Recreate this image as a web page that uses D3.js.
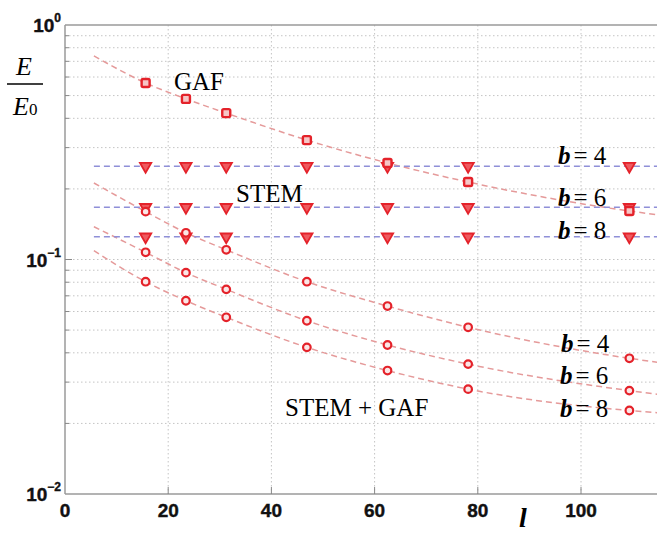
<!DOCTYPE html>
<html>
<head>
<meta charset="utf-8">
<script src="https://cdn.jsdelivr.net/npm/d3@7"></script>
<style>
  html, body { margin: 0; padding: 0; background: #fff; }
  svg { display: block; }
</style>
</head>
<body>
<svg id="chart" width="657" height="533"></svg>
<script>
// ---- data ----
const lValues = [15.625, 23.4375, 31.25, 46.875, 62.5, 78.125, 109.375];
const fitL = [5.6, 15.625, 23.4375, 31.25, 46.875, 62.5, 78.125, 109.375, 115];

const gafValues = [0.566, 0.484, 0.421, 0.323, 0.258, 0.214, 0.161];
const gafFit = [0.738, 0.566, 0.484, 0.421, 0.323, 0.258, 0.214, 0.161, 0.155];

const stemB4 = [0.25, 0.25, 0.25, 0.25, 0.25, 0.25, 0.25];
const stemB6 = [0.167, 0.167, 0.167, 0.167, 0.167, 0.167, 0.167];
const stemB8 = [0.125, 0.125, 0.125, 0.125, 0.125, 0.125, 0.125];
const stemLineL = [5.6, 115];

const stemGafB4 = [0.160, 0.130, 0.110, 0.0804, 0.0633, 0.0514, 0.0379];
const stemGafB6 = [0.1073, 0.0879, 0.0746, 0.0548, 0.0432, 0.0358, 0.0276];
const stemGafB8 = [0.0804, 0.0667, 0.0567, 0.0422, 0.0336, 0.0280, 0.0227];
const stemGafFitB4 = [0.212, 0.160, 0.130, 0.110, 0.0804, 0.0633, 0.0514, 0.0379, 0.0364];
const stemGafFitB6 = [0.138, 0.1073, 0.0879, 0.0746, 0.0548, 0.0432, 0.0358, 0.0276, 0.0266];
const stemGafFitB8 = [0.109, 0.0804, 0.0667, 0.0567, 0.0422, 0.0336, 0.0280, 0.0227, 0.0222];

const xTicks = [0, 20, 40, 60, 80, 100];
const yTicks = [1, 0.1, 0.01];
const yTickExp = ["0", "\u22121", "\u22122"];
const yMinor = [0.02,0.03,0.04,0.05,0.06,0.07,0.08,0.09,0.2,0.3,0.4,0.5,0.6,0.7,0.8,0.9];

// ---- scales ----
const svg = d3.select("#chart");
const x = d3.scaleLinear().domain([0, 115]).range([65, 658.4]);
const y = d3.scaleLog().domain([0.01, 1]).range([494, 25]);

const red = "#e4222a";
const gridColor = "#c4c4c4";

// ---- grid ----
const grid = svg.append("g");
grid.selectAll("line.v").data(xTicks.filter(d => d > 0)).join("line")
  .attr("x1", d => x(d)).attr("x2", d => x(d))
  .attr("y1", y(1)).attr("y2", y(0.01))
  .attr("stroke", gridColor).attr("stroke-width", 1).attr("stroke-dasharray", "1.5,2.5");
grid.selectAll("line.h").data(yMinor.concat([0.1])).join("line")
  .attr("x1", x(0)).attr("x2", 657)
  .attr("y1", d => y(d)).attr("y2", d => y(d))
  .attr("stroke", gridColor).attr("stroke-width", 1).attr("stroke-dasharray", "1.5,2.5");

// ---- axes frame ----
const axisColor = "#9a9a9a";
svg.append("line").attr("x1", x(0)).attr("x2", x(0)).attr("y1", y(1)).attr("y2", y(0.01))
  .attr("stroke", axisColor).attr("stroke-width", 1.5);
svg.append("line").attr("x1", x(0)).attr("x2", 657).attr("y1", y(0.01)).attr("y2", y(0.01))
  .attr("stroke", axisColor).attr("stroke-width", 1.5);
svg.append("line").attr("x1", x(0)).attr("x2", 657).attr("y1", y(1)).attr("y2", y(1))
  .attr("stroke", axisColor).attr("stroke-width", 1.5);

// inner ticks
svg.append("g").selectAll("line").data(yMinor.concat([0.1])).join("line")
  .attr("x1", x(0)).attr("x2", d => x(0) + (d === 0.1 ? 7 : 4))
  .attr("y1", d => y(d)).attr("y2", d => y(d))
  .attr("stroke", "#888").attr("stroke-width", 1);
svg.append("g").selectAll("line").data(xTicks.filter(d => d > 0)).join("line")
  .attr("x1", d => x(d)).attr("x2", d => x(d))
  .attr("y1", y(0.01)).attr("y2", y(0.01) - 7)
  .attr("stroke", "#888").attr("stroke-width", 1);

// ---- tick labels ----
svg.append("g").selectAll("text").data(xTicks).join("text")
  .attr("x", d => x(d)).attr("y", 517)
  .attr("text-anchor", "middle")
  .attr("font-family", "Liberation Sans, Arial, sans-serif")
  .attr("font-weight", "bold").attr("font-size", 19)
  .attr("fill", "#111").attr("stroke", "#111").attr("stroke-width", 0.4)
  .text(d => d);

const yl = svg.append("g").selectAll("text").data(yTicks).join("text")
  .attr("x", 61).attr("y", d => y(d) + 7)
  .attr("text-anchor", "end")
  .attr("font-family", "Liberation Sans, Arial, sans-serif")
  .attr("font-weight", "bold").attr("font-size", 19)
  .attr("fill", "#111").attr("stroke", "#111").attr("stroke-width", 0.4);
yl.append("tspan").text("10");
yl.append("tspan").attr("dy", -10).attr("font-size", 12).text((d, i) => yTickExp[i]);

// ---- line generators ----
const line = d3.line().x(d => x(d[0])).y(d => y(d[1])).curve(d3.curveMonotoneX);
const zip = (a, b) => a.map((v, i) => [v, b[i]]);

const pinkDash = "#e59a9a";
const blueDash = "#8f8fd8";

const lines = svg.append("g");
[gafFit, stemGafFitB4, stemGafFitB6, stemGafFitB8].forEach(vals => {
  lines.append("path").attr("d", line(zip(fitL, vals)))
    .attr("fill", "none").attr("stroke", pinkDash).attr("stroke-width", 1.5)
    .attr("stroke-dasharray", "6,4");
});
[stemB4, stemB6, stemB8].forEach(vals => {
  lines.append("path").attr("d", line(zip(stemLineL, [vals[0], vals[vals.length - 1]])))
    .attr("fill", "none").attr("stroke", blueDash).attr("stroke-width", 1.5)
    .attr("stroke-dasharray", "6,4");
});

// ---- markers ----
const marks = svg.append("g");
[stemB4, stemB6, stemB8].forEach(vals => {
  marks.append("g").selectAll("path").data(zip(lValues, vals)).join("path")
    .attr("transform", d => `translate(${x(d[0])},${y(d[1])}) rotate(180)`)
    .attr("d", d3.symbol(d3.symbolTriangle, 55)())
    .attr("fill", "#ee5a5f").attr("stroke", red).attr("stroke-width", 1.8);
});
marks.append("g").selectAll("rect").data(zip(lValues, gafValues)).join("rect")
  .attr("x", d => x(d[0]) - 4).attr("y", d => y(d[1]) - 4)
  .attr("width", 8).attr("height", 8).attr("rx", 1.5)
  .attr("fill", "#f6c6c6").attr("stroke", red).attr("stroke-width", 2.4);
[stemGafB4, stemGafB6, stemGafB8].forEach(vals => {
  marks.append("g").selectAll("circle").data(zip(lValues, vals)).join("circle")
    .attr("cx", d => x(d[0])).attr("cy", d => y(d[1])).attr("r", 3.8)
    .attr("fill", "#fbe6e6").attr("stroke", red).attr("stroke-width", 2.2);
});

// ---- annotations ----
const serif = "Liberation Serif, Times New Roman, serif";
function ann(tx, ty, str, size) {
  svg.append("text").attr("x", tx).attr("y", ty)
    .attr("font-family", serif).attr("font-size", size || 25).attr("fill", "#000").text(str);
}
ann(174, 90, "GAF");
ann(236, 202, "STEM");
ann(285, 416, "STEM + GAF");

function bLabel(tx, ty, num) {
  const t = svg.append("text").attr("x", tx).attr("y", ty)
    .attr("font-family", serif).attr("font-size", 25).attr("fill", "#000");
  t.append("tspan").attr("font-weight", "bold").attr("font-style", "italic").text("b");
  t.append("tspan").attr("dx", 3).text("= " + num);
}
bLabel(558, 164, 4);
bLabel(558, 206, 6);
bLabel(558, 239, 8);
bLabel(561, 352, 4);
bLabel(560, 384, 6);
bLabel(560, 417, 8);

// y label E / E0
svg.append("text").attr("x", 24).attr("y", 75).attr("text-anchor", "middle")
  .attr("font-family", serif).attr("font-style", "italic").attr("font-size", 26).text("E");
svg.append("line").attr("x1", 7).attr("x2", 43).attr("y1", 84).attr("y2", 84)
  .attr("stroke", "#000").attr("stroke-width", 1.5);
const e0 = svg.append("text").attr("x", 13).attr("y", 115)
  .attr("font-family", serif).attr("font-size", 26);
e0.append("tspan").attr("font-style", "italic").text("E");
e0.append("tspan").attr("font-size", 17).text("0");

// x label l
svg.append("text").attr("x", 519).attr("y", 527)
  .attr("font-family", serif).attr("font-style", "italic").attr("font-weight", "bold")
  .attr("font-size", 28).text("l");
</script>
</body>
</html>
